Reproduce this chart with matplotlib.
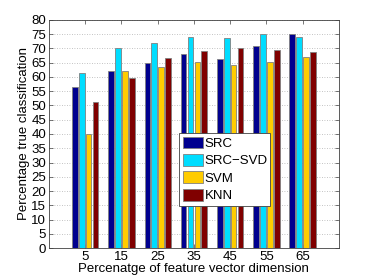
import matplotlib
matplotlib.use("Agg")
import matplotlib.pyplot as plt
import numpy as np

plt.rcParams['font.family'] = ['Liberation Sans', 'DejaVu Sans']

categories = ["5", "15", "25", "35", "45", "55", "65"]
src = [56.3, 62.0, 65.0, 68.0, 66.3, 71.0, 75.0]
src_svd = [61.5, 70.3, 72.0, 74.0, 73.7, 75.0, 74.0]
svm = [40.0, 62.2, 63.6, 65.3, 64.3, 65.3, 67.0]
knn = [51.3, 59.7, 66.6, 69.0, 70.0, 69.3, 68.6]
series_names = ["SRC", "SRC\u2212SVD", "SVM", "KNN"]
colors = ["#00008F", "#00DDFF", "#FFCC00", "#800000"]

fig = plt.figure(figsize=(3.74, 2.80), dpi=100)
ax = fig.add_axes([0.131, 0.114, 0.775, 0.815])

x = np.arange(1, len(categories) + 1)
step = 0.19
width = 0.155
for i, (vals, c, name) in enumerate(zip([src, src_svd, svm, knn], colors, series_names)):
    ax.bar(x + (i - 1.5) * step, vals, width=width, color=c, edgecolor="#808080",
           linewidth=0.6, label=name, zorder=3)

ax.set_xlim(0, 8)
ax.set_ylim(0, 80)
ax.set_xticks(x)
ax.set_xticklabels(categories)
ax.set_yticks(np.arange(0, 81, 5))
ax.yaxis.grid(True, linestyle=(0, (1, 2)), color="#b0b0b0", linewidth=0.6, zorder=0)
ax.tick_params(direction="in", top=True, right=True, labelsize=9.5, length=3, width=0.5,
               colors="#404040", labelcolor="black", pad=2)
for s in ax.spines.values():
    s.set_color("#404040")
    s.set_linewidth(0.6)
ax.set_xlabel("Percenatge of feature vector dimension", fontsize=9.5, labelpad=0)
ax.set_ylabel("Percentage true classification", fontsize=9.5, labelpad=1)

leg = ax.legend(loc="lower left", bbox_to_anchor=(0.448, 0.184, 0.314, 0.32), mode="expand",
                fontsize=9.5, fancybox=False, framealpha=1, edgecolor="#404040",
                handlelength=1.5, handleheight=1.0, handletextpad=0.15, borderpad=0.3,
                labelspacing=0.3, borderaxespad=0)
leg.get_frame().set_linewidth(0.6)
leg.set_zorder(5)

fig.savefig("out.png", dpi=100)
